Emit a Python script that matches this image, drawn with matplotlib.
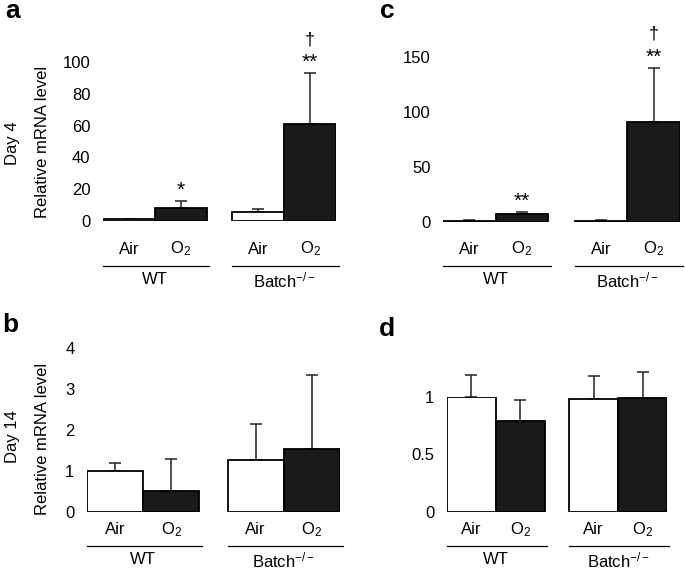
import matplotlib
matplotlib.use("Agg")
import matplotlib.pyplot as plt
import matplotlib.transforms as mtransforms

plt.rcParams['font.family'] = ['Liberation Sans', 'DejaVu Sans']
plt.rcParams['mathtext.fontset'] = 'custom'
plt.rcParams['mathtext.rm'] = 'Liberation Sans'
plt.rcParams['mathtext.it'] = 'Liberation Sans'
plt.rcParams['mathtext.bf'] = 'Liberation Sans:bold'

W, H = 685, 571
FS = 12

conditions = ['Air', 'O$_2$', 'Air', 'O$_2$']
groups = ['WT', 'Batch$^{-/-}$']
fills = ['white', '#1a1a1a', 'white', '#1a1a1a']

# Day 4
a_mean = [1.0, 8.2, 5.7, 61.0]
a_err = [0.3, 4.4, 1.8, 32.0]
a_marks = ['', '*', '', '**']
a_dagger = [False, False, False, True]

c_mean = [1.0, 7.0, 1.0, 91.0]
c_err = [0.8, 2.0, 0.8, 49.0]
c_marks = ['', '**', '', '**']
c_dagger = [False, False, False, True]

# Day 14
b_mean = [1.0, 0.51, 1.27, 1.54]
b_err = [0.2, 0.79, 0.88, 1.80]

d_mean = [1.0, 0.79, 0.98, 0.99]
d_err = [0.19, 0.18, 0.20, 0.23]

xpos = [0, 1, 2.5, 3.5]


def px_axes(fig, x0, y0, x1, y1):
    # pixel box (top-left origin) -> figure axes
    return fig.add_axes([x0 / W, 1 - y1 / H, (x1 - x0) / W, (y1 - y0) / H])


def draw_panel(fig, box, means, errs, ylim, yticks, yticklabels, rows, marks=None, daggers=None):
    ax = px_axes(fig, *box)
    ax.bar(xpos, means, width=1.0, color=fills, edgecolor='black', linewidth=1.3, zorder=2)
    ax.errorbar(xpos, means, yerr=[[0] * len(errs), errs], fmt='none', ecolor='#222222',
                elinewidth=1.1, capsize=4.5, capthick=1.1, zorder=1, clip_on=False)
    ax.set_xlim(-0.5, 4.0)
    ax.set_ylim(*ylim)
    ax.set_yticks(yticks)
    ax.set_yticklabels(yticklabels, fontsize=FS)
    ax.tick_params(axis='y', length=0, pad=9)
    ax.set_xticks([])
    for s in ax.spines.values():
        s.set_visible(False)
    ax.patch.set_visible(False)

    cat_y, line_y, grp_y = rows
    trans = mtransforms.blended_transform_factory(ax.transData, fig.transFigure)
    for x, lab in zip(xpos, conditions):
        ax.text(x, 1 - cat_y / H, lab, transform=trans, ha='center', va='center', fontsize=FS)
    for g, (lo, hi) in enumerate([(xpos[0], xpos[1]), (xpos[2], xpos[3])]):
        ax.plot([lo - 0.5, hi + 0.55], [1 - line_y / H] * 2, transform=trans, color='black',
                lw=0.9, clip_on=False)
        ax.text((lo + hi) / 2, 1 - grp_y / H, groups[g], transform=trans, ha='center',
                va='center', fontsize=FS)

    if marks is not None:
        for x, m, e, s, dg in zip(xpos, means, errs, marks, daggers):
            if s:
                ax.annotate(s, (x, m + e), xytext=(0, 1), textcoords='offset points',
                            ha='center', va='bottom', fontsize=15)
            if dg:
                ax.annotate('\u2020', (x, m + e), xytext=(0, 18), textcoords='offset points',
                            ha='center', va='bottom', fontsize=13)
    return ax


fig = plt.figure(figsize=(W / 100, H / 100), dpi=100)

draw_panel(fig, (103, 62, 336, 221), a_mean, a_err, (0, 100), [0, 20, 40, 60, 80, 100],
           ['0', '20', '40', '60', '80', '100'], (249, 266, 280), a_marks, a_dagger)
draw_panel(fig, (443, 57, 680, 222), c_mean, c_err, (0, 150), [0, 50, 100, 150],
           ['0', '50', '100', '150'], (249, 266, 280), c_marks, c_dagger)
draw_panel(fig, (87, 348, 340, 512), b_mean, b_err, (0, 4), [0, 1, 2, 3, 4],
           ['0', '1', '2', '3', '4'], (530, 546, 560))
draw_panel(fig, (447, 397, 667, 512), d_mean, d_err, (0, 1), [0, 0.5, 1],
           ['0', '0.5', '1'], (530, 546, 560))

# row / axis labels
fig.text(43 / W, 1 - 142 / H, 'Relative mRNA level', rotation=90, ha='center', va='center', fontsize=FS)
fig.text(12 / W, 1 - 143 / H, 'Day 4', rotation=90, ha='center', va='center', fontsize=FS)
fig.text(43 / W, 1 - 439 / H, 'Relative mRNA level', rotation=90, ha='center', va='center', fontsize=FS)
fig.text(12 / W, 1 - 437 / H, 'Day 14', rotation=90, ha='center', va='center', fontsize=FS)

# panel letters
for lab, x, y in [('a', 13, 11), ('c', 387, 11), ('b', 10, 325), ('d', 387, 329)]:
    fig.text(x / W, 1 - y / H, lab, fontsize=19, fontweight='bold', ha='center', va='center')

fig.savefig('out.png', dpi=100)
